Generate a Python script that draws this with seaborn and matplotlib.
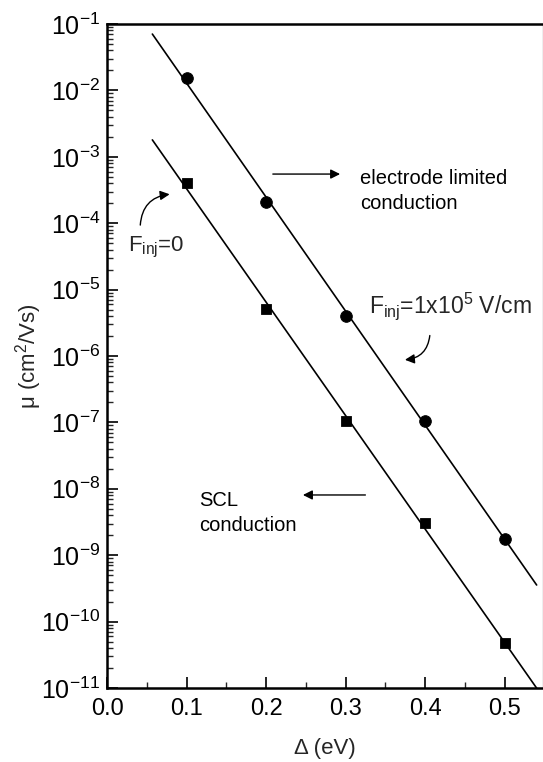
import numpy as np
import pandas as pd
import matplotlib
matplotlib.use("Agg")
import matplotlib.pyplot as plt
from matplotlib.ticker import (FixedLocator, LogLocator, MultipleLocator,
                               NullFormatter, FormatStrFormatter)
import seaborn as sns

# Mobility vs. trap depth, two injection conditions
delta_ev = [0.1, 0.2, 0.3, 0.4, 0.5]
mu_field = [1.52e-2, 2.1e-4, 4.0e-6, 1.05e-7, 1.75e-9]   # F_inj = 1x10^5 V/cm (circles)
mu_zero = [4.1e-4, 5.05e-6, 1.06e-7, 3.1e-9, 4.7e-11]    # F_inj = 0 (squares)
fit_range = [0.057, 0.54]
y_decades = list(range(-11, 0))

sns.set_theme(style="ticks")
plt.rcParams["font.family"] = ["Liberation Sans", "DejaVu Sans"]
plt.rcParams["mathtext.fontset"] = "custom"
plt.rcParams["mathtext.rm"] = "Liberation Sans"
plt.rcParams["mathtext.it"] = "Liberation Sans:italic"
plt.rcParams["mathtext.bf"] = "Liberation Sans:bold"
plt.rcParams["mathtext.default"] = "regular"

fig = plt.figure(figsize=(5.43, 7.62), dpi=100)
ax = fig.add_axes([107 / 543, 1 - 688 / 762, 436 / 543, 664 / 762])

# exponential fits (linear in log10 mu)
xfit = np.linspace(fit_range[0], fit_range[1], 50)
for mu in (mu_field, mu_zero):
    p = np.polyfit(delta_ev, np.log10(mu), 1)
    fit_df = pd.DataFrame({"x": xfit, "y": 10 ** np.polyval(p, xfit)})
    sns.lineplot(data=fit_df, x="x", y="y", ax=ax, color="black", lw=1.2)

df_field = pd.DataFrame({"x": delta_ev, "y": mu_field})
df_zero = pd.DataFrame({"x": delta_ev, "y": mu_zero})
sns.scatterplot(data=df_field, x="x", y="y", ax=ax, marker="o", s=70,
                color="black", edgecolor="black", zorder=5)
sns.scatterplot(data=df_zero, x="x", y="y", ax=ax, marker="s", s=55,
                color="black", edgecolor="black", zorder=5)

ax.set_yscale("log")
ax.set_xlim(0, 0.548)
ax.set_ylim(1e-11, 1e-1)
ax.yaxis.set_major_locator(FixedLocator([10.0 ** d for d in y_decades]))
ax.yaxis.set_major_formatter(
    matplotlib.ticker.FuncFormatter(lambda v, _: "10$^{%d}$" % round(np.log10(v))))
ax.yaxis.set_minor_locator(LogLocator(base=10, subs=np.arange(2, 10), numticks=20))
ax.yaxis.set_minor_formatter(NullFormatter())
ax.xaxis.set_major_locator(MultipleLocator(0.1))
ax.xaxis.set_minor_locator(MultipleLocator(0.05))
ax.xaxis.set_major_formatter(FormatStrFormatter("%.1f"))

ax.tick_params(axis="both", which="major", direction="in", length=8, width=1.2,
               colors="black", pad=6)
ax.tick_params(axis="y", which="major", labelsize=18, pad=5)
ax.tick_params(axis="x", which="major", labelsize=17, pad=7)
ax.tick_params(axis="both", which="minor", direction="in", length=4.5, width=1.0)
ax.tick_params(top=False, right=False, which="both")

for side in ("left", "bottom", "top"):
    ax.spines[side].set_linewidth(1.8)
    ax.spines[side].set_color("black")
ax.spines["right"].set_linewidth(1.0)
ax.spines["right"].set_color("#aaaaaa")

ax.set_xlabel("Δ (eV)", fontsize=16, labelpad=13)
ax.set_ylabel("μ (cm$^2$/Vs)", fontsize=16, labelpad=-2)

# annotations
txt_kw = dict(transform=ax.transAxes, fontsize=14.5, color="black")
ax.text(0.580, 0.7485, "electrode limited\nconduction", va="center", ha="left",
        linespacing=1.35, **txt_kw)
ax.text(0.211, 0.2635, "SCL\nconduction", va="center", ha="left",
        linespacing=1.35, **txt_kw)
ax.text(0.601, 0.565, "F$_{inj}$=1x10$^5$ V/cm", va="baseline", ha="left",
        transform=ax.transAxes, fontsize=16.5)
ax.text(0.048, 0.657, "F$_{inj}$=0", va="baseline", ha="left",
        transform=ax.transAxes, fontsize=16)

arrow = dict(arrowstyle="-|>", color="black", lw=1.0, mutation_scale=14)
ax.annotate("", xy=(0.541, 0.774), xytext=(0.374, 0.774), xycoords="axes fraction",
            textcoords="axes fraction", arrowprops=arrow)
ax.annotate("", xy=(0.443, 0.2907), xytext=(0.599, 0.2907), xycoords="axes fraction",
            textcoords="axes fraction", arrowprops=arrow)
ax.annotate("", xy=(0.677, 0.494), xytext=(0.741, 0.535), xycoords="axes fraction",
            textcoords="axes fraction",
            arrowprops=dict(arrow, connectionstyle="arc3,rad=-0.45"))
ax.annotate("", xy=(0.150, 0.744), xytext=(0.076, 0.693), xycoords="axes fraction",
            textcoords="axes fraction",
            arrowprops=dict(arrow, connectionstyle="arc3,rad=-0.45"))

fig.savefig("out.png", dpi=100)
